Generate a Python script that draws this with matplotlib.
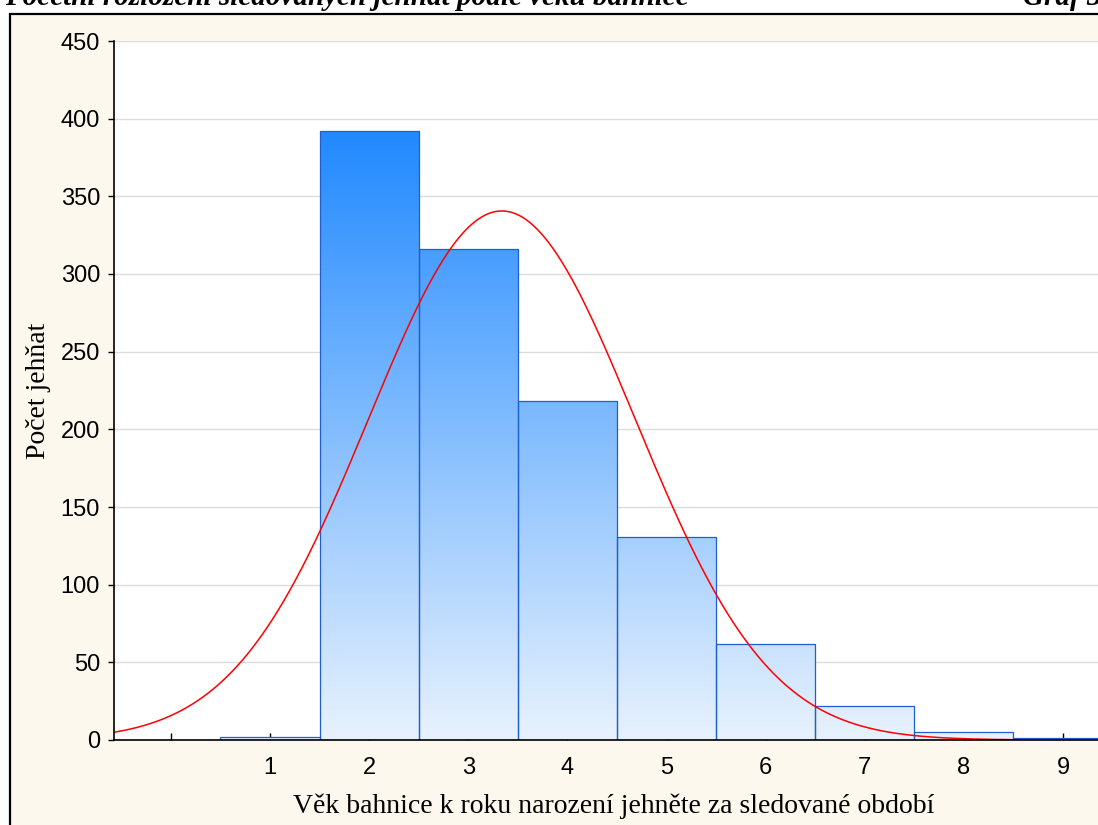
import numpy as np
import matplotlib
matplotlib.use("Agg")
import matplotlib.pyplot as plt
from matplotlib.patches import Rectangle
from matplotlib.colors import LinearSegmentedColormap

# Data
ages = [1, 2, 3, 4, 5, 6, 7, 8, 9]
counts = [2, 392, 316, 218, 131, 62, 22, 5, 1]
yticks = [0, 50, 100, 150, 200, 250, 300, 350, 400, 450]
xtick_labels = ["", "1", "2", "3", "4", "5", "6", "7", "8", "9"]
title_left = "Početní rozložení sledovaných jehňat podle věku bahnice"
title_right = "Graf 3"
xlabel = "Věk bahnice k roku narození jehněte za sledované období"
ylabel = "Počet jehňat"

W, H = 1098, 825
fig = plt.figure(figsize=(W / 100, H / 100), dpi=100, facecolor="white")

# Cream page frame
frame = Rectangle((10 / W, -0.2), 1.2, 1 - 14 / H + 0.2, transform=fig.transFigure,
                  facecolor="#fdf8ee", edgecolor="black", linewidth=1.6, zorder=-5)
fig.patches.append(frame)

fig.text(5 / W, 1 - 5 / H, title_left, ha="left", va="baseline",
         fontfamily="Liberation Serif", fontstyle="italic", fontweight="bold", fontsize=21)
fig.text(1 + 4 / W, 1 - 5 / H, title_right, ha="right", va="baseline",
         fontfamily="Liberation Serif", fontstyle="italic", fontweight="bold", fontsize=21)

ax = fig.add_axes([114 / W, 1 - 740 / H, 998.6 / W, 699 / H])
ax.set_zorder(2)
ax.set_facecolor("white")
ax.set_xlim(-0.574, 9.5)
ax.set_ylim(0, 450)

for y in yticks[1:]:
    ax.axhline(y, color="#dcdcdc", linewidth=1.0, zorder=1)

cmap = LinearSegmentedColormap.from_list("g", ["#e8f2fd", "#2189ff"])
grad = np.linspace(0, 1, 256).reshape(-1, 1)
bars = ax.bar(ages, counts, width=1.0, facecolor="none", edgecolor="#1d5fd2",
              linewidth=0.9, zorder=4)
ymax = max(counts)
for b in bars:
    im = ax.imshow(grad, extent=(-0.574, 9.5, 0, ymax), origin="lower", aspect="auto",
                   cmap=cmap, zorder=3)
    im.set_clip_path(b)
ax.set_xlim(-0.574, 9.5)
ax.set_ylim(0, 450)

# Fitted normal curve
a = np.array(ages, dtype=float)
c = np.array(counts, dtype=float)
N = c.sum()
mu = (a * c).sum() / N
sd = np.sqrt((c * (a - mu) ** 2).sum() / N)
xs = np.linspace(-0.574, 9.5, 600)
ys = N * 1.0 / (sd * np.sqrt(2 * np.pi)) * np.exp(-0.5 * ((xs - mu) / sd) ** 2)
ax.plot(xs, ys, color="#ff0000", linewidth=1.1, zorder=5)

for s in ["top", "right"]:
    ax.spines[s].set_visible(False)
for s in ["left", "bottom"]:
    ax.spines[s].set_linewidth(1.2)
    ax.spines[s].set_color("black")
    ax.spines[s].set_zorder(6)

ax.set_yticks(yticks)
ax.set_xticks(range(0, 10))
ax.set_xticklabels(xtick_labels)
ax.tick_params(axis="y", direction="out", length=4, width=1, pad=6,
               labelsize=17, labelfontfamily="Liberation Sans")
ax.tick_params(axis="x", direction="in", length=5, width=1, pad=12,
               labelsize=17, labelfontfamily="Liberation Sans")

ax.set_xlabel(xlabel, fontfamily="Liberation Serif", fontsize=20, labelpad=11)
ax.set_ylabel(ylabel, fontfamily="Liberation Serif", fontsize=20, labelpad=7)

fig.savefig("out.png", dpi=100)
